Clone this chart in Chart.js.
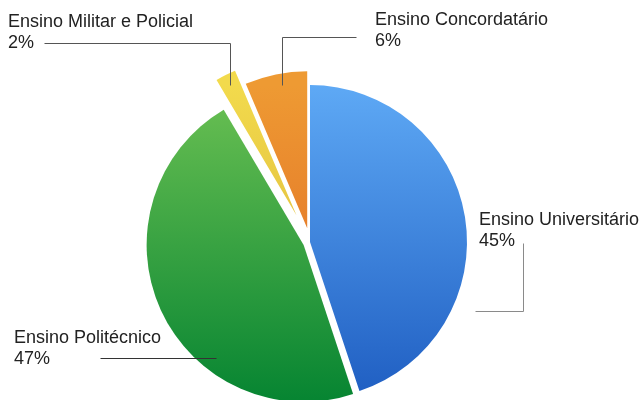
<!DOCTYPE html>
<html>
<head>
<meta charset="utf-8">
<script src="https://cdn.jsdelivr.net/npm/chart.js@4"></script>
<style>
  html, body { margin: 0; padding: 0; background: #fff; }
  #wrap { width: 642px; height: 400px; position: relative; }
</style>
</head>
<body>
<div id="wrap"><canvas id="pieChart"></canvas></div>
<script>
// ==========================
// Data
// ==========================

const labels = [
    "Ensino Universitário",
    "Ensino Politécnico",
    "Ensino Militar e Policial",
    "Ensino Concordatário"
];

const shares = [44.9, 46.6, 2.1, 6.4];

// pulled-out distance of each slice (px)
const explode = [0, 7, 30, 14];

// top / bottom gradient colours per slice
const topColors = ["#5ea9f5", "#6cc153", "#f2da4c", "#ee9a33"];
const bottomColors = ["#1f5ec2", "#078532", "#d6ab36", "#de6222"];


// ==========================
// Label layout (annotation)
// ==========================

const labelSpots = [
    { x: 479, y: 225, line: [[475, 311], [523, 311], [523, 243]], color: "#8a8a8a" },
    { x: 14, y: 343, line: [[100, 358], [216, 358]], color: "#333" },
    { x: 8, y: 27, line: [[44, 43], [230, 43], [230, 85]], color: "#555" },
    { x: 375, y: 25, line: [[356, 37], [282, 37], [282, 85]], color: "#555" }
];


function sliceGradient(context) {
    const chart = context.chart;
    const area = chart.chartArea;
    if (!area) return topColors[context.dataIndex];
    const cy = (area.top + area.bottom) / 2;
    const r = 157;
    const g = chart.ctx.createLinearGradient(0, cy - r, 0, cy + r);
    g.addColorStop(0, topColors[context.dataIndex]);
    g.addColorStop(1, bottomColors[context.dataIndex]);
    return g;
}


// move slices out along their middle angle
const explodePlugin = {
    id: "explodeSlices",
    afterDatasetsUpdate(chart) {
        const meta = chart.getDatasetMeta(0);
        meta.data.forEach((arc, i) => {
            const mid = (arc.startAngle + arc.endAngle) / 2;
            arc.x += Math.cos(mid) * explode[i];
            arc.y += Math.sin(mid) * explode[i];
        });
    }
};


const labelPlugin = {
    id: "sliceLabels",
    afterDraw(chart) {
        const ctx = chart.ctx;
        ctx.save();
        labelSpots.forEach((spot, i) => {
            ctx.strokeStyle = spot.color;
            ctx.lineWidth = 1;
            ctx.beginPath();
            spot.line.forEach((p, k) => {
                if (k === 0) ctx.moveTo(p[0] + 0.5, p[1] + 0.5);
                else ctx.lineTo(p[0] + 0.5, p[1] + 0.5);
            });
            ctx.stroke();

            ctx.fillStyle = "#222";
            ctx.font = "18px 'Liberation Sans', Arial, sans-serif";
            ctx.textBaseline = "alphabetic";
            ctx.fillText(labels[i], spot.x, spot.y);
            ctx.fillText(Math.round(shares[i]) + "%", spot.x, spot.y + 21);
        });
        ctx.restore();
    }
};


const ctx = document.getElementById("pieChart");

const pieChart = new Chart(ctx, {

    type: "pie",

    data: {
        labels: labels,
        datasets: [{
            data: shares,
            backgroundColor: sliceGradient,
            borderWidth: 0,
            clip: false
        }]
    },

    options: {
        responsive: true,
        maintainAspectRatio: false,
        animation: false,
        radius: 157,
        layout: {
            padding: { left: 0, right: 22, top: 84, bottom: 0 }
        },
        plugins: {
            legend: { display: false },
            tooltip: { enabled: false }
        }
    },

    plugins: [explodePlugin, labelPlugin]

});
</script>
</body>
</html>
